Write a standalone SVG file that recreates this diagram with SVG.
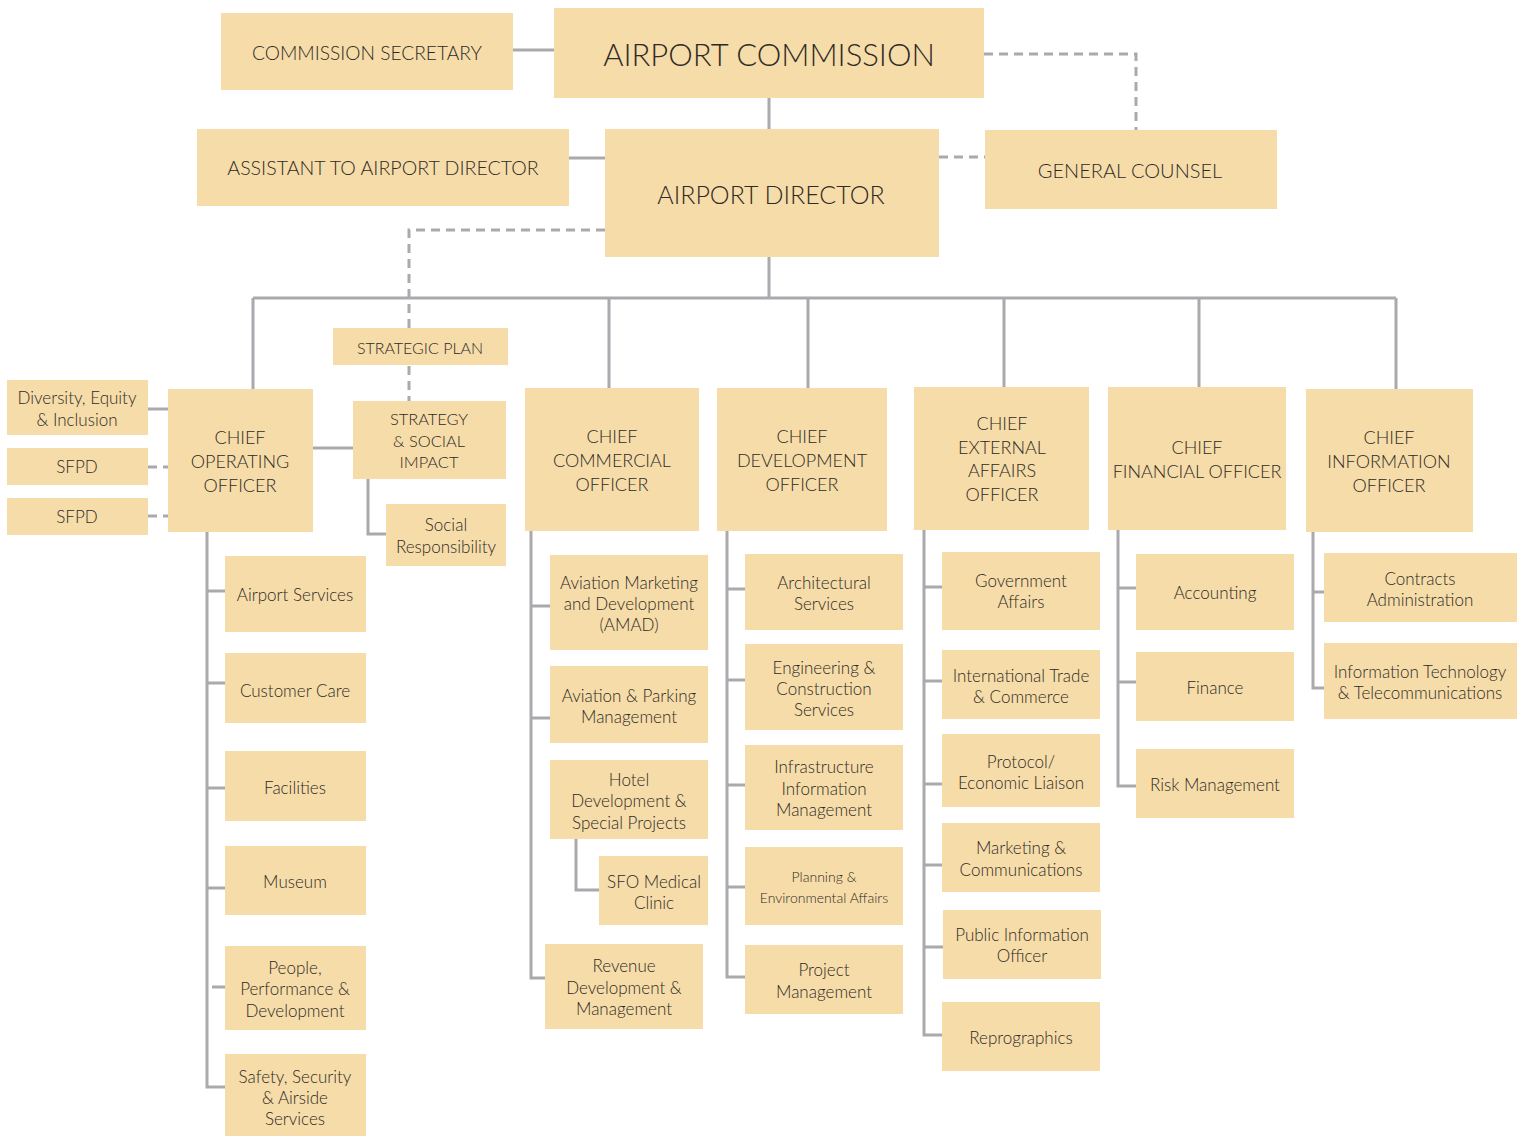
<svg xmlns="http://www.w3.org/2000/svg" width="1526" height="1137" viewBox="0 0 1526 1137">
<style>
.b{fill:#F6DCA9}
text{font-family:Lato,"Noto Sans","Liberation Sans",sans-serif;fill:#2e2b26;text-anchor:middle;dominant-baseline:central;font-weight:300}
.c{font-size:18px}
.l{font-size:17px}
.s{font-size:14px}
.ln{fill:none;stroke:#A9A9AE;stroke-width:3}
.d{fill:none;stroke:#A9A9AE;stroke-width:3;stroke-dasharray:9 6}
</style>
<rect width="1526" height="1137" fill="#fff"/>
<g id="connectors">
<path class="ln" d="M513 50H554M769 98V129M569 158H605M769 257V298M253 298H1396M253 298V389M609 298V388M808 298V388M1004 298V387M1199 298V387M1396 298V389"/>
<path class="d" d="M984 54H1136V130M939 157H985M605 230H409V328M409 366V401M148 467H168M148 516H168"/>
<path class="ln" d="M148 409H168M313 448H353M368 479V534H386"/>
<path class="ln" d="M207 532V1087H225M207 591H225M207 683H225M207 788H225M207 888H225M212 987H225"/>
<path class="ln" d="M531 531V978H545M531 606H550M531 718H550M576 839V890H599"/>
<path class="ln" d="M727 531V977H745M727 589H745M727 680H745M727 785H745M727 887H745"/>
<path class="ln" d="M924 530V1035H942M924 587H942M924 681H942M924 784H942M924 865H942M924 947H943"/>
<path class="ln" d="M1118 530V786H1136M1118 588H1136M1118 682H1136"/>
<path class="ln" d="M1313 532V688H1324M1313 592H1324"/>
</g>
<g id="commission-secretary"><rect class="b" x="221" y="13" width="292" height="77"/><text x="367" y="52" style="font-size:19.2px">COMMISSION SECRETARY</text></g>
<g id="airport-commission"><rect class="b" x="554" y="8" width="430" height="90"/><text x="769" y="54" style="font-size:31px">AIRPORT COMMISSION</text></g>
<g id="assistant"><rect class="b" x="197" y="129" width="372" height="77"/><text x="383" y="167" style="font-size:19.6px">ASSISTANT TO AIRPORT DIRECTOR</text></g>
<g id="airport-director"><rect class="b" x="605" y="129" width="334" height="128"/><text x="771" y="194" style="font-size:25px">AIRPORT DIRECTOR</text></g>
<g id="general-counsel"><rect class="b" x="985" y="130" width="292" height="79"/><text x="1130" y="170" style="font-size:20px">GENERAL COUNSEL</text></g>

<g id="dei"><rect class="b" x="7" y="380" width="141" height="55"/><text class="l" x="77" y="397">Diversity, Equity</text><text class="l" x="77" y="419">&amp; Inclusion</text></g>
<g id="sfpd1"><rect class="b" x="7" y="448" width="141" height="37"/><text class="l" x="77" y="466">SFPD</text></g>
<g id="sfpd2"><rect class="b" x="7" y="498" width="141" height="37"/><text class="l" x="77" y="516">SFPD</text></g>
<g id="coo"><rect class="b" x="168" y="389" width="145" height="143"/><text class="c" x="240" y="437">CHIEF</text><text class="c" x="240" y="461">OPERATING</text><text class="c" x="240" y="485">OFFICER</text></g>
<g id="strategic-plan"><rect class="b" x="333" y="328" width="175" height="37"/><text x="420" y="347" style="font-size:16px">STRATEGIC PLAN</text></g>
<g id="strategy"><rect class="b" x="353" y="401" width="153" height="78"/><text x="429" y="418" style="font-size:16.4px">STRATEGY</text><text x="429" y="440" style="font-size:16.4px">&amp; SOCIAL</text><text x="429" y="461" style="font-size:16.4px">IMPACT</text></g>
<g id="social-resp"><rect class="b" x="386" y="504" width="120" height="62"/><text class="l" x="446" y="524">Social</text><text class="l" x="446" y="546">Responsibility</text></g>
<g id="airport-services"><rect class="b" x="225" y="556" width="141" height="76"/><text class="l" x="295" y="594">Airport Services</text></g>
<g id="customer-care"><rect class="b" x="225" y="653" width="141" height="70"/><text class="l" x="295" y="690">Customer Care</text></g>
<g id="facilities"><rect class="b" x="225" y="751" width="141" height="70"/><text class="l" x="295" y="787">Facilities</text></g>
<g id="museum"><rect class="b" x="225" y="846" width="141" height="69"/><text class="l" x="295" y="881">Museum</text></g>
<g id="people"><rect class="b" x="225" y="946" width="141" height="84"/><text class="l" x="295" y="967">People,</text><text class="l" x="295" y="988">Performance &amp;</text><text class="l" x="295" y="1010">Development</text></g>
<g id="safety"><rect class="b" x="225" y="1054" width="141" height="82"/><text class="l" x="295" y="1076">Safety, Security</text><text class="l" x="295" y="1097">&amp; Airside</text><text class="l" x="295" y="1118">Services</text></g>

<g id="cco"><rect class="b" x="525" y="388" width="174" height="143"/><text class="c" x="612" y="436">CHIEF</text><text class="c" x="612" y="460">COMMERCIAL</text><text class="c" x="612" y="484">OFFICER</text></g>
<g id="amad"><rect class="b" x="550" y="555" width="158" height="95"/><text class="l" x="629" y="582">Aviation Marketing</text><text class="l" x="629" y="603">and Development</text><text class="l" x="629" y="624">(AMAD)</text></g>
<g id="parking"><rect class="b" x="550" y="666" width="158" height="77"/><text class="l" x="629" y="695">Aviation &amp; Parking</text><text class="l" x="629" y="716">Management</text></g>
<g id="hotel"><rect class="b" x="550" y="760" width="158" height="79"/><text class="l" x="629" y="779">Hotel</text><text class="l" x="629" y="800">Development &amp;</text><text class="l" x="629" y="822">Special Projects</text></g>
<g id="clinic"><rect class="b" x="599" y="856" width="109" height="69"/><text class="l" x="654" y="881">SFO Medical</text><text class="l" x="654" y="902">Clinic</text></g>
<g id="revenue"><rect class="b" x="545" y="944" width="158" height="85"/><text class="l" x="624" y="965">Revenue</text><text class="l" x="624" y="987">Development &amp;</text><text class="l" x="624" y="1008">Management</text></g>

<g id="cdo"><rect class="b" x="717" y="388" width="170" height="143"/><text class="c" x="802" y="436">CHIEF</text><text class="c" x="802" y="460">DEVELOPMENT</text><text class="c" x="802" y="484">OFFICER</text></g>
<g id="architectural"><rect class="b" x="745" y="554" width="158" height="76"/><text class="l" x="824" y="582">Architectural</text><text class="l" x="824" y="603">Services</text></g>
<g id="engineering"><rect class="b" x="745" y="644" width="158" height="86"/><text class="l" x="824" y="667">Engineering &amp;</text><text class="l" x="824" y="688">Construction</text><text class="l" x="824" y="709">Services</text></g>
<g id="infrastructure"><rect class="b" x="745" y="745" width="158" height="85"/><text class="l" x="824" y="766">Infrastructure</text><text class="l" x="824" y="788">Information</text><text class="l" x="824" y="809">Management</text></g>
<g id="planning"><rect class="b" x="745" y="847" width="158" height="78"/><text class="s" x="824" y="876">Planning &amp;</text><text class="s" x="824" y="897">Environmental Affairs</text></g>
<g id="project"><rect class="b" x="745" y="945" width="158" height="69"/><text class="l" x="824" y="969">Project</text><text class="l" x="824" y="991">Management</text></g>

<g id="ceao"><rect class="b" x="914" y="387" width="175" height="143"/><text class="c" x="1002" y="423">CHIEF</text><text class="c" x="1002" y="447">EXTERNAL</text><text class="c" x="1002" y="470">AFFAIRS</text><text class="c" x="1002" y="494">OFFICER</text></g>
<g id="government"><rect class="b" x="942" y="552" width="158" height="78"/><text class="l" x="1021" y="580">Government</text><text class="l" x="1021" y="601">Affairs</text></g>
<g id="trade"><rect class="b" x="942" y="650" width="158" height="69"/><text class="l" x="1021" y="675">International Trade</text><text class="l" x="1021" y="696">&amp; Commerce</text></g>
<g id="protocol"><rect class="b" x="942" y="734" width="158" height="73"/><text class="l" x="1021" y="761">Protocol/</text><text class="l" x="1021" y="782">Economic Liaison</text></g>
<g id="marketing"><rect class="b" x="942" y="823" width="158" height="69"/><text class="l" x="1021" y="847">Marketing &amp;</text><text class="l" x="1021" y="869">Communications</text></g>
<g id="pio"><rect class="b" x="943" y="910" width="158" height="69"/><text class="l" x="1022" y="934">Public Information</text><text class="l" x="1022" y="955">Officer</text></g>
<g id="reprographics"><rect class="b" x="942" y="1002" width="158" height="69"/><text class="l" x="1021" y="1037">Reprographics</text></g>

<g id="cfo"><rect class="b" x="1108" y="387" width="178" height="143"/><text class="c" x="1197" y="447">CHIEF</text><text class="c" x="1197" y="471">FINANCIAL OFFICER</text></g>
<g id="accounting"><rect class="b" x="1136" y="554" width="158" height="76"/><text class="l" x="1215" y="592">Accounting</text></g>
<g id="finance"><rect class="b" x="1136" y="652" width="158" height="69"/><text class="l" x="1215" y="687">Finance</text></g>
<g id="risk"><rect class="b" x="1136" y="749" width="158" height="69"/><text class="l" x="1215" y="784">Risk Management</text></g>

<g id="cio"><rect class="b" x="1306" y="389" width="167" height="143"/><text class="c" x="1389" y="437">CHIEF</text><text class="c" x="1389" y="461">INFORMATION</text><text class="c" x="1389" y="485">OFFICER</text></g>
<g id="contracts"><rect class="b" x="1324" y="553" width="193" height="69"/><text class="l" x="1420" y="578">Contracts</text><text class="l" x="1420" y="599">Administration</text></g>
<g id="it"><rect class="b" x="1324" y="643" width="193" height="76"/><text class="l" x="1420" y="671">Information Technology</text><text class="l" x="1420" y="692">&amp; Telecommunications</text></g>
</svg>
